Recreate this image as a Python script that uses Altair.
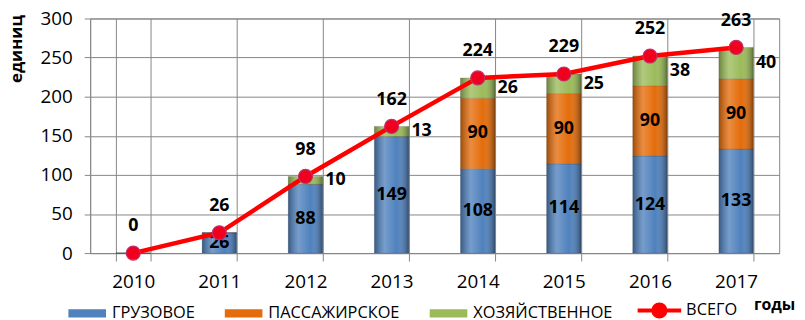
import altair as alt
import pandas as pd

years = ["2010", "2011", "2012", "2013", "2014", "2015", "2016", "2017"]
series = ["ГРУЗОВОЕ", "ПАССАЖИРСКОЕ", "ХОЗЯЙСТВЕННОЕ"]
cargo = [0, 26, 88, 149, 108, 114, 124, 133]
passenger = [0, 0, 0, 0, 90, 90, 90, 90]
utility = [0, 0, 10, 13, 26, 25, 38, 40]
total = [0, 26, 98, 162, 224, 229, 252, 263]
total_name = "ВСЕГО"
colors = ["#4F81BD", "#E46C0A", "#9BBB59"]
y_ticks = [0, 50, 100, 150, 200, 250, 300]

rows = []
for i, y in enumerate(years):
    for k, (s, vals) in enumerate(zip(series, [cargo, passenger, utility])):
        rows.append({"year": y, "series": s, "value": vals[i], "ord": k})
long = pd.DataFrame(rows)
tot = pd.DataFrame({"year": years, "total": total, "lbl": [total_name] * len(years)})

FONT = "Open Sans"
W, H = 696, 237

xscale = alt.Scale(domain=years, paddingInner=0.6, paddingOuter=0.3)
yscale = alt.Scale(domain=[0, 300])

x_enc = alt.X(
    "year:N",
    scale=xscale,
    axis=alt.Axis(
        title="годы", labelAngle=0, tickBand="extent", grid=True, tickSize=8,
        labelPadding=12, titleX=670, titleY=52, titleAlign="left",
        titleBaseline="middle", titleFontWeight="bold", titleFontSize=16,
    ),
)
y_enc = alt.Y(
    "value:Q",
    scale=yscale,
    stack="zero",
    axis=alt.Axis(
        title="единиц", values=y_ticks, tickCount=7, labelOverlap=False,
        tickSize=6, labelPadding=12,
        titleAngle=-90, titleAlign="right", titleBaseline="middle",
        titleX=-74, titleY=-4, titleFontWeight="bold", titleFontSize=17,
    ),
)

bar_path = "M-1,-0.22H1V0.22H-1Z"
line_path = "M-1,0H1M0.28,0A0.28,0.28,0,1,1,-0.28,0A0.28,0.28,0,1,1,0.28,0Z"

bars = alt.Chart(long).mark_bar(stroke="#3a3a3a", strokeWidth=0.4, strokeOpacity=0.5).encode(
    x=x_enc,
    y=y_enc,
    color=alt.Color(
        "series:N",
        scale=alt.Scale(domain=series, range=colors),
        legend=alt.Legend(
            title=None, orient="none", direction="horizontal", legendX=-22, legendY=279,
            symbolType=bar_path, symbolSize=1444, labelFontSize=16.5, labelFont=FONT,
            columnPadding=30, labelOffset=6, gridAlign="none", padding=0,
            symbolStrokeWidth=0,
        ),
    ),
    order=alt.Order("ord:Q"),
)

shine = alt.Chart(long).mark_bar(
    fill=alt.Gradient(
        gradient="linear", x1=0, x2=1, y1=0, y2=0,
        stops=[
            alt.GradientStop(color="rgba(0,0,0,0.30)", offset=0),
            alt.GradientStop(color="rgba(255,255,255,0.22)", offset=0.3),
            alt.GradientStop(color="rgba(255,255,255,0.0)", offset=0.65),
            alt.GradientStop(color="rgba(0,0,0,0.40)", offset=1),
        ],
    )
).encode(
    x=alt.X("year:N", scale=xscale),
    y=alt.Y("value:Q", scale=yscale, stack="zero"),
    detail="series:N",
    order=alt.Order("ord:Q"),
)

stacked = alt.Chart(long).transform_stack(
    stack="value", groupby=["year"], as_=["y0", "y1"], sort=[alt.SortField("ord")]
).transform_calculate(mid="(datum.y0 + datum.y1) / 2").transform_filter("datum.value > 0")

inner_labels = stacked.transform_filter(f"datum.series != '{series[2]}'").mark_text(
    font=FONT, fontSize=18, fontWeight="bold", color="black", baseline="middle"
).encode(
    x=alt.X("year:N", scale=xscale),
    y=alt.Y("mid:Q", scale=yscale),
    text="value:Q",
)

side_labels = stacked.transform_filter(f"datum.series == '{series[2]}'").mark_text(
    font=FONT, fontSize=18, fontWeight="bold", color="black", baseline="middle",
    align="left", dx=20,
).encode(
    x=alt.X("year:N", scale=xscale),
    y=alt.Y("mid:Q", scale=yscale),
    text="value:Q",
)

line = alt.Chart(tot).mark_line(strokeWidth=4.5).encode(
    x=alt.X("year:N", scale=xscale),
    y=alt.Y("total:Q", scale=yscale),
    stroke=alt.Stroke(
        "lbl:N",
        scale=alt.Scale(domain=[total_name], range=["#FF0000"]),
        legend=alt.Legend(
            title=None, orient="none", legendX=551, legendY=271,
            symbolType=line_path, symbolSize=1936, symbolStrokeWidth=4,
            symbolFillColor="#FF0000", labelFontSize=16.5, labelFont=FONT,
            labelOffset=3, padding=0,
        ),
    ),
)

points = alt.Chart(tot).mark_circle(
    size=200, color="#F0001E", stroke="#C0306A", strokeWidth=1.2, opacity=1
).encode(
    x=alt.X("year:N", scale=xscale),
    y=alt.Y("total:Q", scale=yscale),
)

total_labels = alt.Chart(tot).mark_text(
    font=FONT, fontSize=18, fontWeight="bold", color="black", baseline="middle", dy=-27
).encode(
    x=alt.X("year:N", scale=xscale),
    y=alt.Y("total:Q", scale=yscale),
    text="total:Q",
)

chart = alt.layer(
    bars, shine, inner_labels, side_labels, line, points, total_labels
).properties(
    width=W, height=H,
    autosize=alt.AutoSizeParams(type="none"),
    padding={"left": 83, "top": 9, "right": 18, "bottom": 66},
).configure_view(
    stroke="#868686", strokeWidth=1
).configure_axis(
    gridColor="#868686", domainColor="#868686", tickColor="#868686",
    labelFont=FONT, labelFontSize=19, labelColor="black", titleFont=FONT,
    titleColor="black", gridOpacity=1,
).configure_legend(
    labelColor="black"
)

chart.save("out.html", embed_options={"renderer": "svg", "actions": False})
